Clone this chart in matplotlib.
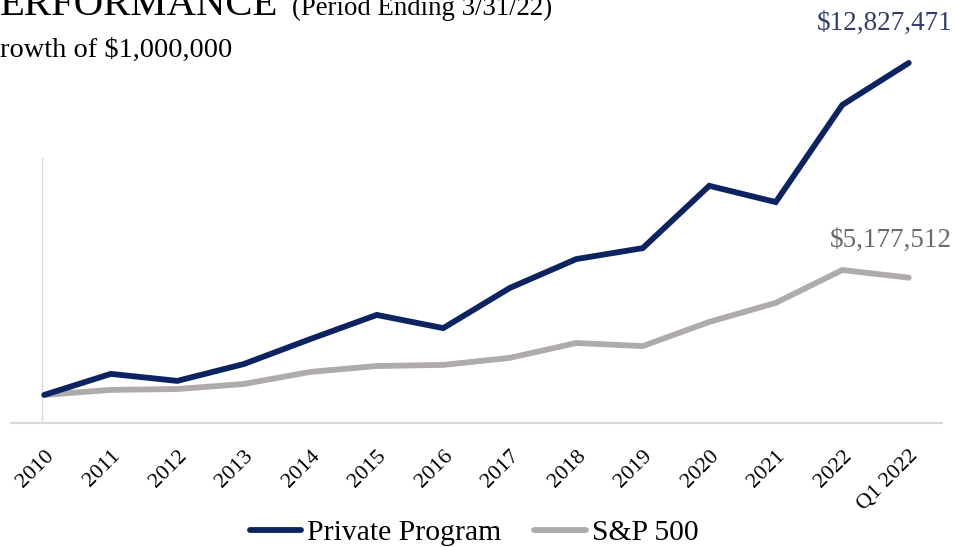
import matplotlib
matplotlib.use("Agg")
import matplotlib.pyplot as plt

categories = ["2010", "2011", "2012", "2013", "2014", "2015", "2016",
              "2017", "2018", "2019", "2020", "2021", "2022", "Q1 2022"]
private_program = [1.000, 1.75, 1.50, 2.10, 2.99, 3.85, 3.38,
                   4.81, 5.84, 6.23, 8.45, 7.87, 11.33, 12.827471]
sp500 = [1.000, 1.18, 1.21, 1.39, 1.82, 2.03, 2.07,
         2.32, 2.85, 2.74, 3.60, 4.28, 5.45, 5.177512]
label_private = "$12,827,471"
label_sp = "$5,177,512"

NAVY = "#0b2461"
GRAY = "#afabab"
SERIF = ["Liberation Serif", "DejaVu Serif"]
plt.rcParams["font.family"] = SERIF

W, H = 956, 547
fig = plt.figure(figsize=(W / 100, H / 100), dpi=100)
ax_h = 15 * 28.07 / H
ax = fig.add_axes([11 / W, 1 - 423 / H, 931 / W, ax_h])

x = list(range(len(categories)))
ax.plot(x, sp500, color=GRAY, lw=4.2, solid_capstyle="round",
        solid_joinstyle="miter", label="S&P 500", zorder=3)
ax.plot(x, private_program, color=NAVY, lw=4.2, solid_capstyle="round",
        solid_joinstyle="miter", label="Private Program", zorder=4)

ax.set_xlim(-0.5, len(categories) - 0.5)
ax.set_ylim(0, 15)
for s in ["top", "right", "left"]:
    ax.spines[s].set_visible(False)
ax.spines["bottom"].set_color("#d9d9d9")
ax.spines["bottom"].set_linewidth(1.5)
ax.plot([-0.04, -0.04], [0, 9.44], color="#d9d9d9", lw=1.0, zorder=1)
ax.set_yticks([])
ax.set_xticks(x)
ax.set_xticklabels(categories, rotation=45, ha="right", va="top",
                   rotation_mode="anchor", fontsize=16)
ax.tick_params(axis="x", length=0, pad=17)

# End labels
fig.text(885 / W, 1 - 23 / H, label_private, color="#2f3e6c", fontsize=19.5,
         ha="center", va="center")
fig.text(891 / W, 1 - 240 / H, label_sp, color="#6a6a6a", fontsize=19.5,
         ha="center", va="center")

# Title
fig.text(0, 1 - 15 / H, "ERFORMANCE", fontsize=29.3, ha="left", va="baseline",
         color="black")
fig.text(292 / W, 1 - 15 / H, "(Period Ending 3/31/22)", fontsize=19.3,
         ha="left", va="baseline", color="black")
fig.text(0, 1 - 57 / H, "rowth of $1,000,000", fontsize=20.4, ha="left",
         va="baseline", color="black")

handles, labels = ax.get_legend_handles_labels()
order = [1, 0]
leg = fig.legend([handles[i] for i in order], [labels[i] for i in order],
                 loc="center", bbox_to_anchor=(474 / W, 1 - 533 / H),
                 ncol=2, frameon=False, fontsize=21.3, handlelength=1.75,
                 handletextpad=0.2, columnspacing=1.1)

fig.savefig("out.png", dpi=100)
